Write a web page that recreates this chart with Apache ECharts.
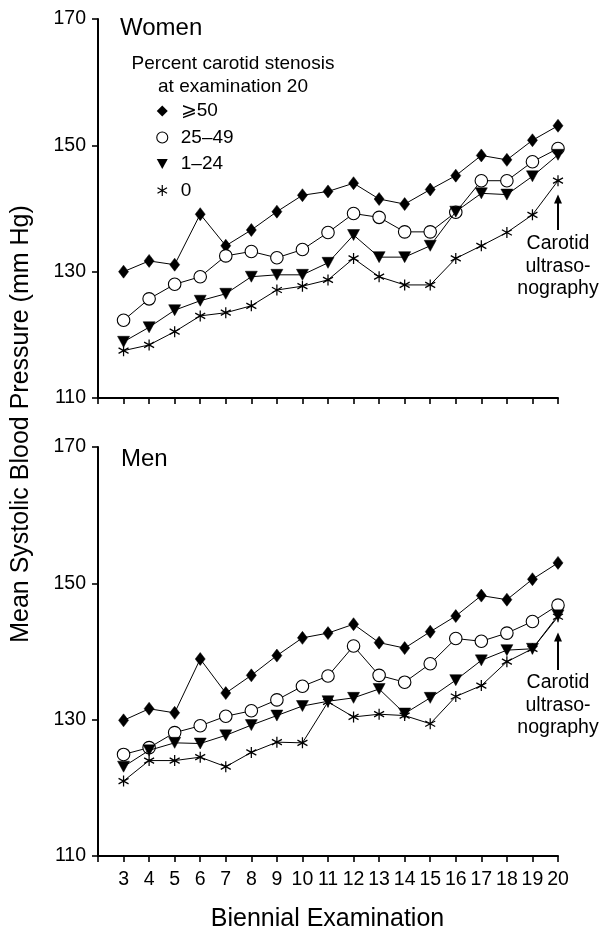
<!DOCTYPE html>
<html>
<head>
<meta charset="utf-8">
<script src="https://cdn.jsdelivr.net/npm/echarts@6/dist/echarts.min.js"></script>
<style>html,body{margin:0;padding:0;background:#fff}#c{width:607px;height:932px}</style>
</head>
<body>
<div id="c"></div>
<script>
// ---- data ----
const exams = [3, 4, 5, 6, 7, 8, 9, 10, 11, 12, 13, 14, 15, 16, 17, 18, 19, 20];
const seriesNames = ['\u2A7E50', '25\u201349', '1\u201324', '0'];
const yTicks = [110, 130, 150, 170];

const womenGe50  = [130.0, 131.7, 131.1, 139.1, 134.1, 136.6, 139.5, 142.1, 142.7, 144.0, 141.5, 140.7, 143.0, 145.2, 148.4, 147.7, 150.8, 153.1];
const women25_49 = [122.3, 125.7, 128.0, 129.2, 132.5, 133.2, 132.2, 133.5, 136.2, 139.2, 138.6, 136.3, 136.3, 139.4, 144.4, 144.4, 147.4, 149.5];
const women1_24  = [118.9, 121.2, 123.9, 125.4, 126.5, 129.2, 129.5, 129.5, 131.4, 135.8, 132.3, 132.3, 134.1, 139.5, 142.4, 142.2, 145.1, 148.5];
const women0     = [117.5, 118.4, 120.5, 123.0, 123.5, 124.6, 127.1, 127.7, 128.7, 132.1, 129.2, 127.9, 127.9, 132.1, 134.1, 136.2, 139.0, 144.4];

const menGe50  = [129.9, 131.6, 131.0, 138.9, 133.9, 136.5, 139.4, 142.0, 142.7, 144.0, 141.3, 140.5, 142.9, 145.2, 148.2, 147.6, 150.6, 153.0];
const men25_49 = [124.9, 125.9, 128.1, 129.1, 130.5, 131.3, 132.9, 134.9, 136.4, 140.8, 136.5, 135.5, 138.2, 141.9, 141.5, 142.7, 144.4, 146.8];
const men1_24  = [123.1, 125.5, 126.6, 126.5, 127.7, 129.2, 130.6, 132.0, 132.7, 133.2, 134.5, 130.9, 133.2, 135.8, 138.7, 140.2, 140.4, 145.3];
const men0     = [121.0, 124.0, 124.0, 124.5, 123.1, 125.2, 126.7, 126.6, 132.6, 130.4, 130.8, 130.6, 129.4, 133.4, 135.0, 138.5, 140.4, 145.1];

// ---- styling ----
const FONT = 'Liberation Sans, Arial, Helvetica, sans-serif';
const TRI = 'path://M0,0L10,0L5,9Z';
const STAR = 'path://M5,0L5,10M0.67,2.5L9.33,7.5M0.67,7.5L9.33,2.5';
const marks = [
  {symbol: 'diamond', size: [10, 13], item: {color: '#000', borderColor: '#000', borderWidth: 0.5}},
  {symbol: 'circle', size: 12.5, item: {color: '#fff', borderColor: '#000', borderWidth: 1.1}},
  {symbol: TRI, size: [12, 11], item: {color: '#000', borderColor: '#000', borderWidth: 0.5}},
  {symbol: STAR, size: [10, 11], item: {color: 'none', borderColor: '#000', borderWidth: 1.3}}
];

function pairs(arr) { return exams.map((x, i) => [x, arr[i]]); }

const women = [womenGe50, women25_49, women1_24, women0];
const men = [menGe50, men25_49, men1_24, men0];

const series = [];
[women, men].forEach((grp, g) => {
  [3, 2, 1, 0].forEach(k => {
    series.push({
      name: seriesNames[k],
      type: 'line',
      xAxisIndex: g, yAxisIndex: g,
      data: pairs(grp[k]),
      symbol: marks[k].symbol,
      symbolSize: marks[k].size,
      showSymbol: true,
      itemStyle: marks[k].item,
      lineStyle: {color: '#000', width: 1},
      emphasis: {disabled: true},
      z: 2 + k,
      animation: false
    });
  });
});

function xAxis(gridIndex, showLabels) {
  return {
    type: 'value', gridIndex, min: 2, max: 20, interval: 1,
    axisLine: {show: true, onZero: false, lineStyle: {color: '#000', width: 2}},
    axisTick: {show: true, length: 6, lineStyle: {color: '#000', width: 1.6}},
    axisLabel: {
      show: showLabels, margin: 14, color: '#000', fontSize: 19.5, fontFamily: FONT,
      formatter: v => (exams.indexOf(v) >= 0 ? String(v) : '')
    },
    splitLine: {show: false}
  };
}
function yAxis(gridIndex) {
  return {
    type: 'value', gridIndex, min: yTicks[0], max: yTicks[yTicks.length - 1], interval: 20,
    axisLine: {show: true, onZero: false, lineStyle: {color: '#000', width: 2}},
    axisTick: {show: true, length: 6, lineStyle: {color: '#000', width: 1.6}},
    axisLabel: {margin: 12, color: '#000', fontSize: 19.5, fontFamily: FONT},
    splitLine: {show: false}
  };
}

const chart = echarts.init(document.getElementById('c'), null, {renderer: 'canvas'});

const legendIcons = {};
legendIcons[seriesNames[0]] = {icon: 'diamond', itemStyle: {color: '#000', borderColor: '#000', borderWidth: 0}};
legendIcons[seriesNames[1]] = {icon: 'circle', itemStyle: {color: '#fff', borderColor: '#000', borderWidth: 1.1}};
legendIcons[seriesNames[2]] = {icon: TRI, itemStyle: {color: '#000', borderColor: '#000', borderWidth: 0}};
legendIcons[seriesNames[3]] = {icon: STAR, itemStyle: {color: 'none', borderColor: '#000', borderWidth: 1.2}};

chart.setOption({
  backgroundColor: '#fff',
  animation: false,
  grid: [
    {left: 98, top: 19, width: 460, height: 379, outerBoundsMode: 'none'},
    {left: 98, top: 447, width: 460, height: 409, outerBoundsMode: 'none'}
  ],
  xAxis: [xAxis(0, false), xAxis(1, true)],
  yAxis: [yAxis(0), yAxis(1)],
  legend: {
    show: true,
    orient: 'vertical',
    left: 155, top: 101.5,
    padding: 0,
    itemWidth: 11, itemHeight: 11, itemGap: 7.5,
    selectedMode: false,
    textStyle: {color: '#000', fontSize: 19, fontFamily: FONT, padding: [0, 0, 0, 8]},
    data: seriesNames.map(n => Object.assign({name: n}, legendIcons[n]))
  },
  series
});

// annotations positioned from data coordinates
function px(g, x, y) { return chart.convertToPixel({gridIndex: g}, [x, y]); }
const annot = [
  {g: 0, tip: 142.2, tail: 136.6, text: 134.4},
  {g: 1, tip: 142.8, tail: 137.3, text: 135.4}
];
const graphics = [];
annot.forEach(a => {
  const tip = px(a.g, 20, a.tip), tail = px(a.g, 20, a.tail), t = px(a.g, 20, a.text);
  graphics.push({type: 'line', shape: {x1: tail[0], y1: tail[1], x2: tip[0], y2: tip[1] + 6}, style: {stroke: '#000', lineWidth: 2}});
  graphics.push({type: 'polygon', shape: {points: [[tip[0], tip[1]], [tip[0] - 4, tip[1] + 9], [tip[0] + 4, tip[1] + 9]]}, style: {fill: '#000'}});
  graphics.push({type: 'text', x: t[0], y: t[1] - 11, style: {text: 'Carotid\nultraso-\nnography', fill: '#000', font: '19.5px ' + FONT, textAlign: 'center', textVerticalAlign: 'top', lineHeight: 22.5}});
});
graphics.push({type: 'text', x: 120, y: 28, style: {text: 'Women', fill: '#000', font: '24px ' + FONT, textVerticalAlign: 'middle'}});
graphics.push({type: 'text', x: 121, y: 459, style: {text: 'Men', fill: '#000', font: '24px ' + FONT, textVerticalAlign: 'middle'}});
graphics.push({type: 'text', x: 233, y: 52, style: {text: 'Percent carotid stenosis\nat examination 20', fill: '#000', font: '19px ' + FONT, textAlign: 'center', textVerticalAlign: 'top', lineHeight: 23}});
graphics.push({type: 'text', x: 327.5, y: 919, style: {text: 'Biennial Examination', fill: '#000', font: '25px ' + FONT, textAlign: 'center', textVerticalAlign: 'middle'}});
graphics.push({type: 'text', x: 21, y: 424, rotation: Math.PI / 2, style: {text: 'Mean Systolic Blood Pressure (mm Hg)', fill: '#000', font: '25px ' + FONT, textAlign: 'center', textVerticalAlign: 'middle'}});

chart.setOption({graphic: graphics});
</script>
</body>
</html>
